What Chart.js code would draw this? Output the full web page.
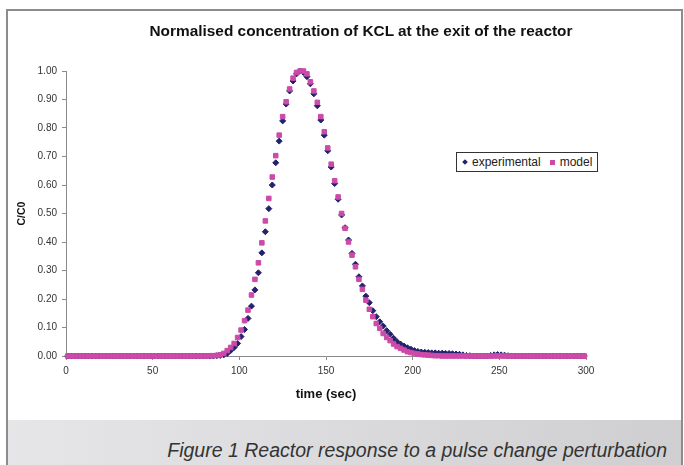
<!DOCTYPE html>
<html>
<head>
<meta charset="utf-8">
<script src="https://cdn.jsdelivr.net/npm/chart.js@4/dist/chart.umd.min.js"></script>
<style>
  html, body { margin: 0; padding: 0; background: #ffffff; }
  body { width: 684px; height: 465px; position: relative; overflow: hidden; font-family: "Liberation Sans", Arial, sans-serif; }
  #frame { position: absolute; left: 6px; top: 9px; width: 677px; height: 470px; border: 2px solid #8c8c8c; box-sizing: border-box; }
  #band { position: absolute; left: 8px; top: 420px; width: 673px; height: 45px; background: linear-gradient(to right, #e6e6e8, #cfcfd1); }
  #caption { position: absolute; right: 17px; top: 438px; font-style: italic; font-size: 19.5px; line-height: 24px; color: #333; white-space: nowrap; }
  #title { position: absolute; left: 361px; top: 22px; transform: translateX(-50%); font-weight: bold; font-size: 15.4px; line-height: 18px; color: #111; white-space: nowrap; }
  #cv { position: absolute; left: 0; top: 0; }
  #legend { position: absolute; left: 456px; top: 152px; width: 142px; height: 20px; box-sizing: border-box; border: 1px solid #333; background: #fff; font-size: 12px; color: #222; display: flex; align-items: center; padding-left: 6px; white-space: nowrap; }
  .dia { display: inline-block; width: 4px; height: 4px; background: #22226e; transform: rotate(45deg); margin-right: 5px; }
  .sq { display: inline-block; width: 5px; height: 5px; background: #c94ba6; margin-left: 9px; margin-right: 5px; }
</style>
</head>
<body>
<div id="frame"></div>
<div id="band"></div>
<div id="caption">Figure 1 Reactor response to a pulse change perturbation</div>
<canvas id="cv" width="684" height="420"></canvas>
<div id="title">Normalised concentration of KCL at the exit of the reactor</div>
<div id="legend"><span class="dia"></span>experimental<span class="sq"></span>model</div>
<script>
// time (sec)
const timeSec = [
  1,3,5,7,9,11,13,15,17,19,21,23,25,27,29,31,33,35,37,39,
  41,43,45,47,49,51,53,55,57,59,61,63,65,67,69,71,73,75,77,79,
  81,83,85,87,89,91,93,95,97,99,101,103,105,107,109,111,113,115,117,119,
  121,123,125,127,129,131,133,135,137,139,141,143,145,147,149,151,153,155,157,159,
  161,163,165,167,169,171,173,175,177,179,181,183,185,187,189,191,193,195,197,199,
  201,203,205,207,209,211,213,215,217,219,221,223,225,227,229,231,233,235,237,239,
  241,243,245,247,249,251,253,255,257,259,261,263,265,267,269,271,273,275,277,279,
  281,283,285,287,289,291,293,295,297,299
];

// experimental C/C0
const experimental = [
  0,0,0,0,0,0,0,0,0,0,0,0,0,0,0,0,0,0,0,0,
  0,0,0,0,0,0,0,0,0,0,0,0,0,0,0,0,0,0,0,0,
  0,0,0,0.001,0.002,0.004,0.009,0.019,0.030,0.044,0.068,0.093,0.132,0.175,0.232,0.292,0.362,0.436,0.517,0.600,
  0.678,0.754,0.825,0.884,0.930,0.965,0.990,1.000,0.995,0.980,0.955,0.920,0.878,0.828,0.775,0.720,0.663,0.605,0.550,0.495,
  0.450,0.407,0.360,0.322,0.278,0.246,0.210,0.187,0.159,0.138,0.120,0.105,0.089,0.076,0.062,0.050,0.042,0.035,0.029,0.024,
  0.019,0.016,0.014,0.013,0.012,0.011,0.011,0.010,0.010,0.009,0.009,0.008,0.007,0.006,0.004,0.002,0.001,0,0,0,
  0,0,0.002,0.004,0.005,0.004,0.003,0.001,0,0,0,0,0,0,0,0,0,0,0,0,
  0,0,0,0,0,0,0,0,0,0
];

// model C/C0
const model = [
  0,0,0,0,0,0,0,0,0,0,0,0,0,0,0,0,0,0,0,0,
  0,0,0,0,0,0,0,0,0,0,0,0,0,0,0,0,0,0,0,0,
  0,0.001,0.001,0.002,0.004,0.009,0.019,0.030,0.044,0.065,0.091,0.124,0.161,0.214,0.269,0.327,0.397,0.474,0.553,0.628,
  0.703,0.775,0.840,0.892,0.937,0.975,0.995,1.000,1.000,0.990,0.962,0.930,0.890,0.840,0.787,0.730,0.673,0.615,0.558,0.500,
  0.448,0.400,0.354,0.313,0.269,0.234,0.196,0.164,0.138,0.114,0.097,0.079,0.065,0.054,0.042,0.033,0.027,0.021,0.015,0.012,
  0.009,0.007,0.005,0.004,0.003,0.002,0.001,0.001,0,0,0,0,0,0,0,0,0,0,0,0,
  0,0,0,0,0,0,0,0,0,0,0,0,0,0,0,0,0,0,0,0,
  0,0,0,0,0,0,0,0,0,0
];

const yTicks = [0,0.1,0.2,0.3,0.4,0.5,0.6,0.7,0.8,0.9,1.0];
const xTicks = [0,50,100,150,200,250,300];

const toPts = (arr) => arr.map((v, i) => ({ x: timeSec[i], y: v }));

const tickFont = { family: "'Liberation Sans', Arial, sans-serif", size: 10 };

new Chart(document.getElementById('cv'), {
  type: 'scatter',
  data: {
    datasets: [
      {
        label: 'model',
        data: toPts(model),
        order: 0,
        pointStyle: 'rect',
        pointRadius: 3.2,
        pointBorderWidth: 1,
        backgroundColor: '#cc4aa8',
        borderColor: '#cc4aa8',
        showLine: false,
        clip: false
      },
      {
        label: 'experimental',
        data: toPts(experimental),
        order: 1,
        pointStyle: 'rectRot',
        pointRadius: 3,
        pointBorderWidth: 1,
        backgroundColor: '#22226e',
        borderColor: '#22226e',
        showLine: false,
        clip: false
      }
    ]
  },
  options: {
    responsive: false,
    animation: false,
    devicePixelRatio: 1,
    layout: { padding: { left: 0, right: 98, top: 71, bottom: 0 } },
    plugins: { legend: { display: false }, title: { display: false }, tooltip: { enabled: false } },
    scales: {
      x: {
        type: 'linear', min: 0, max: 300,
        afterBuildTicks: (s) => { s.ticks = xTicks.map(v => ({ value: v })); },
        afterFit: (s) => { s.height = 64; },
        ticks: { color: '#333', font: tickFont, padding: 5, maxRotation: 0 },
        grid: { display: true, drawOnChartArea: false, drawTicks: true, tickLength: 4, color: '#8a8a8a' },
        border: { display: true, color: '#8a8a8a', width: 1 },
        title: { display: true, text: 'time (sec)', color: '#111', font: { family: "'Liberation Sans', Arial, sans-serif", size: 13, weight: 'bold' }, padding: { top: 0, bottom: 18 } }
      },
      y: {
        type: 'linear', min: 0, max: 1,
        afterBuildTicks: (s) => { s.ticks = yTicks.map(v => ({ value: v })); },
        afterFit: (s) => { s.width = 66; },
        ticks: { color: '#333', font: tickFont, padding: 5, callback: (v) => Number(v).toFixed(2) },
        grid: { display: true, drawOnChartArea: false, drawTicks: true, tickLength: 4, color: '#8a8a8a' },
        border: { display: true, color: '#8a8a8a', width: 1 },
        title: { display: true, text: 'C/C0', color: '#111', font: { family: "'Liberation Sans', Arial, sans-serif", size: 10.5, weight: 'bold' }, padding: { top: 16, bottom: 0 } }
      }
    }
  }
});
</script>
</body>
</html>
